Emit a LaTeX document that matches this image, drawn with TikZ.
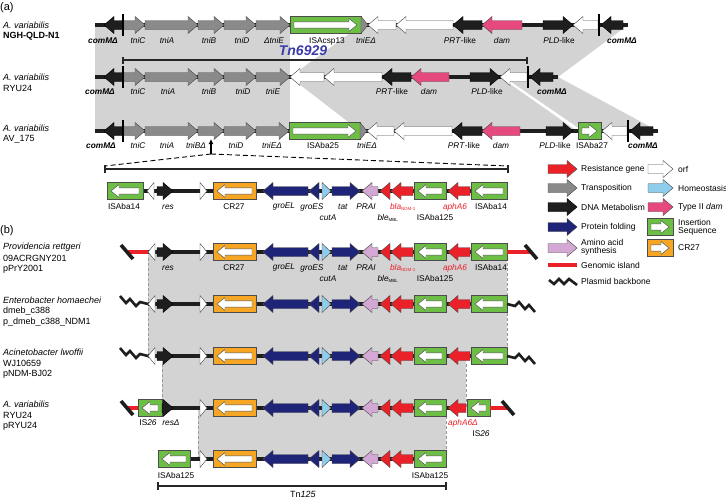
\documentclass[tikz,border=0pt]{standalone}
\usepackage{fontspec}
\setmainfont{Liberation Sans}
\usetikzlibrary{arrows.meta}

\definecolor{tnGray}{HTML}{8A8A8A}
\definecolor{dnaBlack}{HTML}{1E1E1E}
\definecolor{damPink}{HTML}{E6497E}
\definecolor{isGreen}{HTML}{6DBE45}
\definecolor{crOrange}{HTML}{F6A623}
\definecolor{foldNavy}{HTML}{1E2478}
\definecolor{homeBlue}{HTML}{8FCDED}
\definecolor{aaLilac}{HTML}{D4A8D4}
\definecolor{resRed}{HTML}{EA2128}
\definecolor{shadeGray}{HTML}{D3D3D3}
\definecolor{tnBlue}{HTML}{3A3AA8}

\tikzset{
  gene/.style={draw=black!70, line width=0.45pt},
  trn/.style={gene, fill=tnGray},
  dna/.style={gene, draw=black, fill=dnaBlack},
  orf/.style={gene, fill=white},
  dam/.style={gene, fill=damPink},
  fold/.style={gene, fill=foldNavy},
  homeo/.style={gene, fill=homeBlue},
  amino/.style={gene, fill=aaLilac},
  resist/.style={gene, fill=resRed},
  isel/.style={gene, fill=isGreen},
  crel/.style={gene, fill=crOrange},
  bb/.style={line width=3.6pt, dnaBlack},
  island/.style={line width=3.6pt, resRed},
  zig/.style={line width=2.6pt, dnaBlack},
  cutbar/.style={line width=1.4pt, black},
  brk/.style={line width=1.4pt, black!85},
  homol/.style={draw=gray!80, line width=0.6pt, dash pattern=on 3pt off 2pt},
  lbl/.style={font=\fontsize{8.3}{9}\selectfont, inner sep=0pt},
  nm/.style={font=\fontsize{9}{10}\selectfont, anchor=west, inner sep=0pt},
  key/.style={font=\fontsize{8.5}{10}\selectfont, anchor=west, inner sep=0pt, align=left},
}

% arrow from tail #1 to tip #2 on row #3, style #4, shaft/head half heights #5/#6, head length #7
\newcommand{\garr}[7]{%
  \pgfmathsetmacro\gnx{#2-sign(#2-#1)*min(#7,abs(#2-#1))}%
  \filldraw[#4] (#1,{#3-#5}) -- (\gnx,{#3-#5}) -- (\gnx,{#3-#6}) -- (#2,#3)
    -- (\gnx,{#3+#6}) -- (\gnx,{#3+#5}) -- (#1,{#3+#5}) -- cycle;}
\newcommand{\gene}[4]{\garr{#1}{#2}{#3}{#4}{4.5}{8.5}{10}}
% boxed element (IS / CR) with white arrow inside
\newcommand{\elbox}[4]{%
  \pgfmathsetmacro\bxa{min(#1,#2)}\pgfmathsetmacro\bxb{max(#1,#2)}%
  \filldraw[#4] (\bxa,{#3-8.5}) rectangle (\bxb,{#3+8.5});
  \pgfmathsetmacro\ita{#1+4*sign(#2-#1)}\pgfmathsetmacro\itb{#2-4*sign(#2-#1)}%
  \garr{\ita}{\itb}{#3}{orf}{3.2}{6.5}{8}}
\newcommand{\brkslash}[2]{\draw[line width=3.6pt, dnaBlack] ({#1-6},{#2-7}) -- ({#1+6},{#2+7});}
\newcommand{\zigL}[2]{\draw[zig] ({#1-28},{#2-8}) -- ({#1-22},{#2-1}) -- ({#1-18},{#2-5})
  -- ({#1-12},{#2+2}) -- ({#1-8},{#2-2}) -- (#1,#2);}
\newcommand{\zigR}[2]{\draw[zig] (#1,#2) -- ({#1+8},{#2+2}) -- ({#1+12},{#2-2})
  -- ({#1+18},{#2+5}) -- ({#1+22},{#2+1}) -- ({#1+28},{#2+8});}
% shared NDM region, CR27 to ISAba125
\newcommand{\ndmcore}[1]{%
  \gene{200}{207}{#1}{orf}
  \elbox{256}{213}{#1}{crel}
  \gene{308}{263}{#1}{fold}
  \gene{319}{309}{#1}{fold}
  \gene{322}{331}{#1}{homeo}
  \gene{332}{360}{#1}{fold}
  \gene{378}{362}{#1}{amino}
  \gene{390}{380}{#1}{resist}
  \gene{413}{391}{#1}{resist}
  \elbox{446}{414}{#1}{isel}}
\newcommand{\ndmlabels}[1]{%
  \node[lbl] at (234,#1) {CR27};
  \node[lbl] at (284,#1) {\textit{groEL}};
  \node[lbl] at (312,#1) {\textit{groES}};
  \node[lbl] at (328,{#1+11}) {\textit{cutA}};
  \node[lbl] at (343,#1) {\textit{tat}};
  \node[lbl] at (366,#1) {\textit{PRAI}};
  \node[lbl, text=resRed] at (403,#1) {\textit{bla}\textsubscript{\fontsize{4.5}{5}\selectfont NDM-1}};
  \node[lbl] at (388,{#1+11}) {\textit{ble}\textsubscript{\fontsize{4.5}{5}\selectfont MBL}};
  \node[lbl] at (435,{#1+11}) {ISAba125};}

\begin{document}
\begin{tikzpicture}[x=1pt,y=-1pt]
\fill[white] (0,0) rectangle (726,498);
\useasboundingbox (0,0) rectangle (726,498);

% ---------- (a) homology shading
\fill[shadeGray] (95,25) rectangle (290,131);
\fill[shadeGray] (361,25) -- (628,25) -- (558,77) -- (290,77) -- cycle;
\fill[shadeGray] (290,77) -- (500,77) -- (577,131) -- (360,131) -- cycle;
\fill[shadeGray] (504,77) -- (558,77) -- (658,131) -- (583,131) -- cycle;

\node[font=\fontsize{11}{12}\selectfont, anchor=west, inner sep=0pt] at (0,8) {(a)};

% row 1, NGH-QLD-N1
\node[nm] at (3,25) {\textit{A. variabilis}};
\node[nm] at (3,36) {\textbf{NGH-QLD-N1}};
\draw[bb] (95,25) -- (628,25);
\gene{123}{104}{25}{dna}
\draw[cutbar] (123,14) -- (123,36);
\gene{124}{145}{25}{trn}
\gene{145}{198}{25}{trn}
\gene{198}{224}{25}{trn}
\gene{224}{256}{25}{trn}
\gene{256}{290}{25}{trn}
\elbox{290}{361}{25}{isel}
\gene{361}{368}{25}{trn}
\gene{396}{368}{25}{orf}
\gene{453}{396}{25}{orf}
\gene{482}{453}{25}{dna}
\gene{522}{482}{25}{dam}
\gene{543}{573}{25}{dna}
\gene{598}{573}{25}{orf}
\draw[cutbar] (599,14) -- (599,36);
\gene{623}{601}{25}{dna}
\node[lbl] at (103,41) {\textbf{\textit{comMΔ}}};
\node[lbl] at (138,41) {\textit{tniC}};
\node[lbl] at (167,41) {\textit{tniA}};
\node[lbl] at (209,41) {\textit{tniB}};
\node[lbl] at (242,41) {\textit{tniD}};
\node[lbl] at (274,41) {\textit{ΔtniE}};
\node[lbl] at (327,41) {ISAcsp13};
\node[lbl] at (366,41) {\textit{tniEΔ}};
\node[lbl] at (460,41) {\textit{PRT}-like};
\node[lbl] at (502,41) {\textit{dam}};
\node[lbl] at (559,41) {\textit{PLD}-like};
\node[lbl] at (622,41) {\textbf{\textit{comMΔ}}};

% Tn6929 extent
\coordinate (tnL) at (123,60);
\coordinate (tnR) at (527,60);
\draw[brk] (tnL) -- (tnR);
\draw[brk] ([yshift=-3.5pt]tnL) -- ([yshift=3.5pt]tnL);
\draw[brk] ([yshift=-3.5pt]tnR) -- ([yshift=3.5pt]tnR);
\node[font=\fontsize{14}{14}\selectfont\bfseries\itshape, text=tnBlue, inner sep=0pt] at (303,51) {Tn6929};

% row 2, RYU24
\node[nm] at (3,77) {\textit{A. variabilis}};
\node[nm] at (3,88.5) {RYU24};
\draw[bb] (95,77) -- (558,77);
\gene{123}{104}{77}{dna}
\draw[cutbar] (123,66) -- (123,88);
\gene{124}{145}{77}{trn}
\gene{145}{198}{77}{trn}
\gene{198}{224}{77}{trn}
\gene{224}{256}{77}{trn}
\gene{256}{290}{77}{trn}
\gene{324}{290}{77}{orf}
\gene{382}{324}{77}{orf}
\gene{411}{382}{77}{dna}
\gene{449}{411}{77}{dam}
\gene{470}{500}{77}{dna}
\gene{527}{500}{77}{orf}
\draw[cutbar] (528,66) -- (528,88);
\gene{553}{530}{77}{dna}
\node[lbl] at (100,92) {\textbf{\textit{comMΔ}}};
\node[lbl] at (138,92) {\textit{tniC}};
\node[lbl] at (168,92) {\textit{tniA}};
\node[lbl] at (209,92) {\textit{tniB}};
\node[lbl] at (243,92) {\textit{tniD}};
\node[lbl] at (273,92) {\textit{tniE}};
\node[lbl] at (392,92) {\textit{PRT}-like};
\node[lbl] at (429,92) {\textit{dam}};
\node[lbl] at (487,92) {\textit{PLD}-like};
\node[lbl] at (552,92) {\textbf{\textit{comMΔ}}};

% row 3, AV_175
\node[nm] at (3,128) {\textit{A. variabilis}};
\node[nm] at (3,139.5) {AV\_175};
\draw[bb] (95,131) -- (658,131);
\gene{123}{104}{131}{dna}
\draw[cutbar] (123,120) -- (123,142);
\gene{124}{145}{131}{trn}
\gene{145}{198}{131}{trn}
\gene{198}{224}{131}{trn}
\gene{224}{256}{131}{trn}
\gene{256}{289}{131}{trn}
\elbox{289}{360}{131}{isel}
\gene{360}{367}{131}{trn}
\gene{394}{367}{131}{orf}
\gene{452}{394}{131}{orf}
\gene{482}{452}{131}{dna}
\gene{520}{482}{131}{dam}
\gene{546}{573}{131}{dna}
\elbox{578}{601}{131}{isel}
\gene{627}{602}{131}{orf}
\draw[cutbar] (628,120) -- (628,142);
\gene{653}{630}{131}{dna}
\node[lbl] at (101,146) {\textbf{\textit{comMΔ}}};
\node[lbl] at (138,146) {\textit{tniC}};
\node[lbl] at (167,146) {\textit{tniA}};
\node[lbl] at (196,146) {\textit{tniBΔ}};
\node[lbl] at (236,146) {\textit{tniD}};
\node[lbl] at (272,146) {\textit{tniEΔ}};
\node[lbl] at (323,146) {ISAba25};
\node[lbl] at (367,146) {\textit{tniEΔ}};
\node[lbl] at (464,146) {\textit{PRT}-like};
\node[lbl] at (501,146) {\textit{dam}};
\node[lbl] at (555,146) {\textit{PLD}-like};
\node[lbl] at (592,146) {ISAba27};
\node[lbl] at (643,146) {\textbf{\textit{comMΔ}}};

% insertion site in tniB and the expanded region
\coordinate (ins) at (211,154);
\coordinate (exL) at (105,169);
\coordinate (exR) at (508,169);
\draw[-{Latex[length=5pt,width=5pt]}, line width=1.2pt] (ins) -- (211,139);
\draw[line width=0.9pt, dash pattern=on 5pt off 3pt] (ins) -- ([yshift=3pt]exL);
\draw[line width=0.9pt, dash pattern=on 5pt off 3pt] (ins) -- ([yshift=3pt]exR);
\draw[brk] (exL) -- (exR);
\draw[brk] ([yshift=-4pt]exL) -- ([yshift=4pt]exL);
\draw[brk] ([yshift=-4pt]exR) -- ([yshift=4pt]exR);

\draw[bb] (107,191) -- (507,191);
\elbox{143}{107}{191}{isel}
\gene{154}{147}{191}{orf}
\gene{157}{173}{191}{dna}
\ndmcore{191}
\gene{470}{448}{191}{resist}
\elbox{507}{471}{191}{isel}
\node[lbl] at (124,207) {ISAba14};
\node[lbl] at (168,207) {\textit{res}};
\ndmlabels{207}
\node[lbl, text=resRed] at (455,207) {\textit{aphA6}};
\node[lbl] at (491,207) {ISAba14};

% ---------- legend
\gene{548}{577}{169}{resist} \node[key] at (581,169) {Resistance gene};
\gene{548}{577}{188}{trn}    \node[key] at (581,188) {Transposition};
\gene{548}{577}{207}{dna}    \node[key] at (581,207) {DNA Metabolism};
\gene{548}{577}{227}{fold}   \node[key] at (581,227) {Protein folding};
\gene{548}{577}{248}{amino}  \node[key] at (581,247.5) {Amino acid\\[-2pt]synthesis};
\draw[island] (548,265) -- (577,265); \node[key] at (581,265) {Genomic island};
\draw[zig] (549,280) -- (554,284) -- (559,279) -- (564,284) -- (569,279) -- (577,285);
\node[key] at (581,281) {Plasmid backbone};
\gene{648}{673}{169}{orf}    \node[key] at (678,169) {orf};
\gene{648}{673}{188}{homeo}  \node[key] at (678,188) {Homeostasis};
\gene{648}{673}{207}{dam}    \node[key] at (678,207) {Type II \textit{dam}};
\elbox{647}{673}{227}{isel}  \node[key] at (678,227) {Insertion\\[-2pt]Sequence};
\elbox{647}{673}{248}{crel}  \node[key] at (678,248) {CR27};

% ---------- (b) homology shading
\fill[shadeGray] (148,252) rectangle (507,356);
\fill[shadeGray] (162,356) rectangle (466,408);
\fill[shadeGray] (198,408) rectangle (446,459);
\draw[homol] (148,258) -- (148,356);
\draw[homol] (507,258) -- (507,356);
\draw[homol] (162,364) -- (162,408);
\draw[homol] (466,364) -- (466,408);
\draw[homol] (198,416) -- (198,459);
\draw[homol] (446,416) -- (446,459);

\node[font=\fontsize{11}{12}\selectfont, anchor=west, inner sep=0pt] at (0,231) {(b)};

% Providencia rettgeri
\node[nm] at (3,247) {\textit{Providencia rettgeri}};
\node[nm] at (3,258) {09ACRGNY201};
\node[nm] at (3,269) {pPrY2001};
\draw[island] (127,252) -- (148,252);
\brkslash{127}{252}
\draw[bb] (148,252) -- (507,252);
\gene{155}{148}{252}{orf}
\gene{157}{173}{252}{dna}
\ndmcore{252}
\gene{470}{448}{252}{resist}
\elbox{507}{471}{252}{isel}
\draw[island] (507,252) -- (531,252);
\brkslash{531}{252}
\node[lbl] at (168,268) {\textit{res}};
\ndmlabels{268}
\node[lbl, text=resRed] at (455,268) {\textit{aphA6}};
\node[lbl] at (491,268) {ISAba14};

% Enterobacter hormaechei
\node[nm] at (3,300) {\textit{Enterobacter homaechei}};
\node[nm] at (3,311) {dmeb\_c388};
\node[nm] at (3,322) {p\_dmeb\_c388\_NDM1};
\zigL{148}{304}
\draw[bb] (148,304) -- (507,304);
\gene{155}{148}{304}{orf}
\gene{157}{173}{304}{dna}
\ndmcore{304}
\gene{470}{448}{304}{resist}
\elbox{507}{471}{304}{isel}
\zigR{507}{304}

% Acinetobacter lwoffii
\node[nm] at (3,352) {\textit{Acinetobacter lwoffii}};
\node[nm] at (3,363) {WJ10659};
\node[nm] at (3,374) {pNDM-BJ02};
\zigL{148}{356}
\draw[bb] (148,356) -- (507,356);
\gene{155}{148}{356}{orf}
\gene{157}{173}{356}{dna}
\ndmcore{356}
\gene{470}{448}{356}{resist}
\elbox{507}{471}{356}{isel}
\zigR{507}{356}

% A. variabilis pRYU24
\node[nm] at (3,404) {\textit{A. variabilis}};
\node[nm] at (3,415) {RYU24};
\node[nm] at (3,426) {pRYU24};
\draw[island] (127,408) -- (138,408);
\brkslash{127}{408}
\draw[bb] (162,408) -- (466,408);
\elbox{162}{138}{408}{isel}
\gene{162}{173}{408}{dna}
\ndmcore{408}
\gene{466}{448}{408}{resist}
\elbox{490}{467}{408}{isel}
\draw[island] (490,408) -- (508,408);
\brkslash{508}{408}
\node[lbl] at (148,423) {IS\textit{26}};
\node[lbl] at (171,423) {\textit{resΔ}};
\node[lbl, text=resRed] at (463,423) {\textit{aphA6Δ}};
\node[lbl] at (481,434) {IS\textit{26}};

% Tn125
\draw[bb] (190,459) -- (446,459);
\elbox{190}{158}{459}{isel}
\ndmcore{459}
\node[lbl] at (176,476) {ISAba125};
\node[lbl] at (430,476) {ISAba125};
\coordinate (tbL) at (158,486);
\coordinate (tbR) at (446,486);
\draw[brk] (tbL) -- (tbR);
\draw[brk] ([yshift=-4pt]tbL) -- ([yshift=4pt]tbL);
\draw[brk] ([yshift=-4pt]tbR) -- ([yshift=4pt]tbR);
\node[font=\fontsize{9}{10}\selectfont, inner sep=0pt] at (303,494) {Tn\textit{125}};
\end{tikzpicture}
\end{document}
